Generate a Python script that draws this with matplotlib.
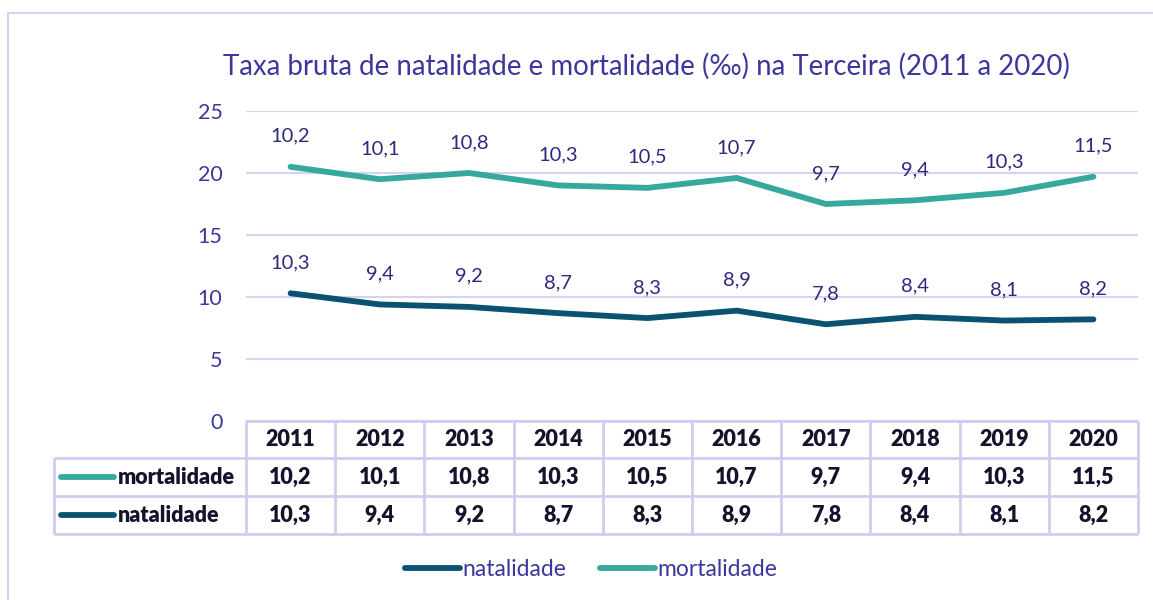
import matplotlib
matplotlib.use("Agg")
import matplotlib.pyplot as plt
import matplotlib.transforms as mtransforms
from matplotlib.lines import Line2D
from matplotlib.patches import Rectangle

plt.rcParams['font.family'] = ['Lato', 'DejaVu Sans']

# ---- data ----
years = ['2011', '2012', '2013', '2014', '2015', '2016', '2017', '2018', '2019', '2020']
natalidade = [10.3, 9.4, 9.2, 8.7, 8.3, 8.9, 7.8, 8.4, 8.1, 8.2]
mortalidade = [10.2, 10.1, 10.8, 10.3, 10.5, 10.7, 9.7, 9.4, 10.3, 11.5]
yticks = [0, 5, 10, 15, 20, 25]
title = 'Taxa bruta de natalidade e mortalidade (‰) na Terceira (2011 a 2020)'

def fmt(v):
    return f'{v:.1f}'.replace('.', ',')

C_NAT = '#0b5272'
C_MORT = '#36a99c'
C_TXT = '#3b379c'
C_LBL = '#2d2a7e'
C_GRID = '#d5d2f2'
C_TAB = '#d0ccf0'
C_TABTXT = '#15132b'

W, H = 1153, 600
fig = plt.figure(figsize=(W / 100, H / 100), dpi=100)

def fx(px):
    return px / W

def fy(py):
    return 1 - py / H

# outer border
fig.patches.append(Rectangle((fx(8), fy(700)), fx(1300), fy(13) - fy(700),
                             transform=fig.transFigure, fill=False,
                             edgecolor=C_GRID, linewidth=1.5))

ax = fig.add_axes([fx(246), fy(421), fx(1138) - fx(246), fy(111) - fy(421)])
x = list(range(len(years)))
stacked = [n + m for n, m in zip(natalidade, mortalidade)]

ax.plot(x, natalidade, color=C_NAT, lw=4.2, solid_capstyle='round',
        solid_joinstyle='round', zorder=3, label='natalidade')
ax.plot(x, stacked, color=C_MORT, lw=4.2, solid_capstyle='round',
        solid_joinstyle='round', zorder=3, label='mortalidade')

for xi, v in zip(x, natalidade):
    ax.annotate(fmt(v), (xi, v), xytext=(0, 22), textcoords='offset points',
                ha='center', va='center', fontsize=14.5, color=C_LBL)
for xi, v, m in zip(x, stacked, mortalidade):
    ax.annotate(fmt(m), (xi, v), xytext=(0, 22), textcoords='offset points',
                ha='center', va='center', fontsize=14.5, color=C_LBL)

ax.set_xlim(-0.5, len(years) - 0.5)
ax.set_ylim(0, 25)
ax.set_yticks(yticks)
ax.set_yticklabels([str(t) for t in yticks])
ax.set_xticks([])
ax.tick_params(axis='y', length=0, pad=17, labelsize=15.5, labelcolor=C_TXT)
for s in ax.spines.values():
    s.set_visible(False)
ax.grid(axis='y', color=C_GRID, lw=1.5)
ax.set_axisbelow(True)
ax.patch.set_alpha(0)

fig.text(fx(646), fy(66), title, ha='center', va='center', fontsize=19.9, color=C_TXT)

# ---- data table ----
bt = mtransforms.blended_transform_factory(ax.transData, fig.transFigure)
rows_y = [421, 458, 496, 534]
lkw = dict(color=C_TAB, lw=2, solid_capstyle='butt')
# horizontal lines
fig.add_artist(Line2D([-0.5, len(years) - 0.5], [fy(421)] * 2, transform=bt, **lkw))
for ry in rows_y[1:]:
    fig.add_artist(Line2D([fx(54), fx(1138)], [fy(ry)] * 2, transform=fig.transFigure, **lkw))
# vertical lines
for i in range(len(years) + 1):
    fig.add_artist(Line2D([i - 0.5] * 2, [fy(421), fy(534)], transform=bt, **lkw))
fig.add_artist(Line2D([fx(54)] * 2, [fy(458), fy(534)], transform=fig.transFigure, **lkw))

hdr_y = fy((421 + 458) / 2)
mort_y = fy((458 + 496) / 2)
nat_y = fy((496 + 534) / 2)
tkw = dict(ha='center', va='center', fontsize=15.5, fontweight='heavy', color=C_TABTXT)
for xi, yr, m, n in zip(x, years, mortalidade, natalidade):
    fig.text(xi, hdr_y, yr, transform=bt, **tkw)
    fig.text(xi, mort_y, fmt(m), transform=bt, **tkw)
    fig.text(xi, nat_y, fmt(n), transform=bt, **tkw)

for label, color, yy in [('mortalidade', C_MORT, mort_y), ('natalidade', C_NAT, nat_y)]:
    fig.add_artist(Line2D([fx(61), fx(114)], [yy, yy], transform=fig.transFigure,
                          color=color, lw=4.2, solid_capstyle='round'))
    fig.text(fx(118), yy, label, ha='left', va='center', fontsize=15.5,
             fontweight='heavy', color=C_TABTXT)

# ---- legend ----
h_nat = Line2D([], [], color=C_NAT, lw=4.2, solid_capstyle='round')
h_mort = Line2D([], [], color=C_MORT, lw=4.2, solid_capstyle='round')
fig.legend([h_nat, h_mort], ['natalidade', 'mortalidade'], loc='center',
           bbox_to_anchor=(fx(591), fy(570)), ncol=2, frameon=False,
           fontsize=16.5, labelcolor=C_TXT, handlelength=2.4, handletextpad=0.1,
           columnspacing=1.45)

fig.savefig('out.png', dpi=100)
